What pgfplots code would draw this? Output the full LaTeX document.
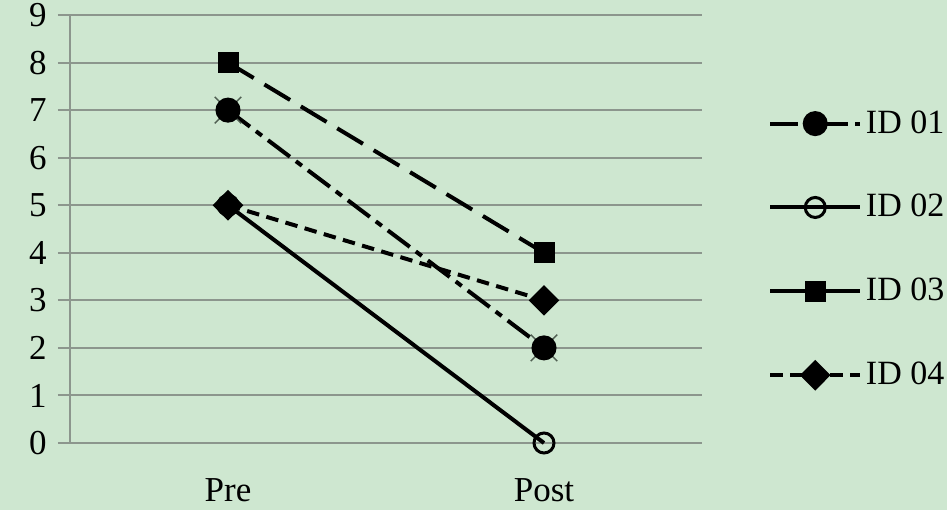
\documentclass[border=0pt]{standalone}
\usepackage{fontspec}
\setmainfont{Liberation Serif}
\usepackage{pgfplots}
\pgfplotsset{compat=1.18}

\definecolor{bggreen}{RGB}{206,231,208}
\definecolor{gridgray}{RGB}{140,150,141}
\definecolor{xmarkgray}{RGB}{80,95,82}

\begin{document}
\begin{tikzpicture}
% page background, 947x510 px at 0.4pt per px
\useasboundingbox (-28pt,-26.8pt) rectangle (350.8pt,177.2pt);
\fill[bggreen] (-28pt,-26.8pt) rectangle (350.8pt,177.2pt);
\begin{axis}[
  scale only axis,
  width=252.8pt, height=171.2pt,
  xmin=-0.5, xmax=1.5,
  ymin=0, ymax=9,
  xtick={0,1},
  xticklabels={Pre,Post},
  ytick={0,1,...,9},
  font=\fontsize{14}{16}\selectfont,
  /pgf/number format/assume math mode=true,
  axis x line*=bottom,
  axis y line*=left,
  x axis line style={draw=none},
  y axis line style={draw=gridgray, line width=0.8pt},
  ymajorgrids,
  major grid style={gridgray, line width=0.8pt},
  major x tick style={draw=none},
  major y tick style={gridgray, line width=0.8pt},
  tick align=outside,
  major tick length=4.8pt,
  yticklabel style={xshift=-1pt},
  xticklabel style={yshift=-6pt},
  clip=false,
  legend cell align=left,
  legend style={draw=none, fill=none, at={(1.104,0.787)}, anchor=north west,
    inner sep=0pt, nodes={inner sep=1.5pt},
    row sep=20pt, font=\fontsize{13.6}{16}\selectfont},
  legend image code/.code={
    \draw[mark repeat=2,mark phase=2,#1] plot coordinates {(0pt,0pt) (18pt,0pt) (36pt,0pt)};
  },
]
\addplot[forget plot, only marks, mark=x, mark size=7.5pt, mark options={xmarkgray, line width=0.6pt}]
  coordinates {(0,7) (1,2)};
\addplot[black, line width=1.6pt, dash pattern=on 11pt off 3pt on 3pt off 3pt,
  mark=*, mark size=4.2pt, mark options={solid, fill=black}]
  coordinates {(0,7) (1,2)};
\addlegendentry{ID 01}
\addplot[black, line width=1.6pt,
  mark=o, mark size=4.0pt, mark options={solid, line width=1.2pt, fill=bggreen}]
  coordinates {(0,5) (1,0)};
\addlegendentry{ID 02}
\addplot[black, line width=1.6pt, dash pattern=on 12pt off 5pt,
  mark=square*, mark size=3.4pt, mark options={solid, fill=black},
  legend image post style={solid}]
  coordinates {(0,8) (1,4)};
\addlegendentry{ID 03}
\addplot[black, line width=1.6pt, dash pattern=on 5pt off 3pt,
  mark=diamond*, mark size=5pt, mark options={solid, fill=black, xscale=1.33}]
  coordinates {(0,5) (1,3)};
\addlegendentry{ID 04}
\end{axis}
\end{tikzpicture}
\end{document}
